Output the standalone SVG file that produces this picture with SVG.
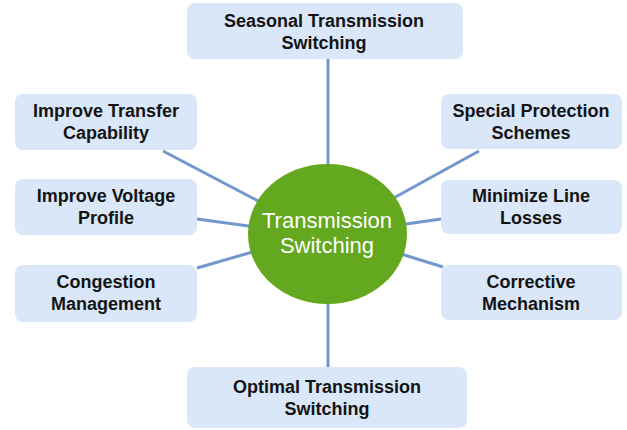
<svg xmlns="http://www.w3.org/2000/svg" width="627" height="430" viewBox="0 0 627 430">
<style>
.box{fill:#d9e7f8;}
.lbl{font-family:"Liberation Sans",Arial,sans-serif;font-weight:bold;font-size:18px;fill:#141414;text-anchor:middle;}
.conn line{stroke:#7297cc;stroke-width:3;}
.hub{fill:#63a81e;}
.hubt{font-family:"Liberation Sans",Arial,sans-serif;font-size:22px;fill:#ffffff;text-anchor:middle;}
</style>
<rect width="627" height="430" fill="#ffffff"/>
<g id="connectors" class="conn">
<line x1="328" y1="59" x2="328" y2="170"/>
<line x1="328" y1="298" x2="328" y2="367"/>
<line x1="163" y1="151" x2="262" y2="203"/>
<line x1="197" y1="219" x2="256" y2="227"/>
<line x1="197" y1="268" x2="256" y2="251"/>
<line x1="479" y1="151" x2="390" y2="200"/>
<line x1="441" y1="219" x2="399" y2="225"/>
<line x1="443" y1="267" x2="398" y2="253"/>
</g>
<g id="hub">
<ellipse class="hub" cx="327.5" cy="234" rx="79.5" ry="70"/>
<text class="hubt" x="327" y="228">Transmission</text>
<text class="hubt" x="327" y="253">Switching</text>
</g>
<g id="n-seasonal">
<rect class="box" x="187" y="3" width="276" height="56" rx="8"/>
<text class="lbl" x="324" y="27">Seasonal Transmission</text>
<text class="lbl" x="324" y="49">Switching</text>
</g>
<g id="n-transfer">
<rect class="box" x="15" y="94" width="182" height="56" rx="8"/>
<text class="lbl" x="106" y="117">Improve Transfer</text>
<text class="lbl" x="106" y="139">Capability</text>
</g>
<g id="n-voltage">
<rect class="box" x="15" y="179" width="182" height="56" rx="8"/>
<text class="lbl" x="106" y="202">Improve Voltage</text>
<text class="lbl" x="106" y="224">Profile</text>
</g>
<g id="n-congestion">
<rect class="box" x="15" y="265" width="182" height="57" rx="8"/>
<text class="lbl" x="106" y="288">Congestion</text>
<text class="lbl" x="106" y="310">Management</text>
</g>
<g id="n-special">
<rect class="box" x="441" y="94" width="181" height="55" rx="8"/>
<text class="lbl" x="531" y="117">Special Protection</text>
<text class="lbl" x="531" y="139">Schemes</text>
</g>
<g id="n-losses">
<rect class="box" x="441" y="180" width="181" height="54" rx="8"/>
<text class="lbl" x="531" y="202">Minimize Line</text>
<text class="lbl" x="531" y="224">Losses</text>
</g>
<g id="n-corrective">
<rect class="box" x="441" y="265" width="181" height="55" rx="8"/>
<text class="lbl" x="531" y="288">Corrective</text>
<text class="lbl" x="531" y="310">Mechanism</text>
</g>
<g id="n-optimal">
<rect class="box" x="187" y="367" width="280" height="61" rx="8"/>
<text class="lbl" x="327" y="393">Optimal Transmission</text>
<text class="lbl" x="327" y="415">Switching</text>
</g>
</svg>
